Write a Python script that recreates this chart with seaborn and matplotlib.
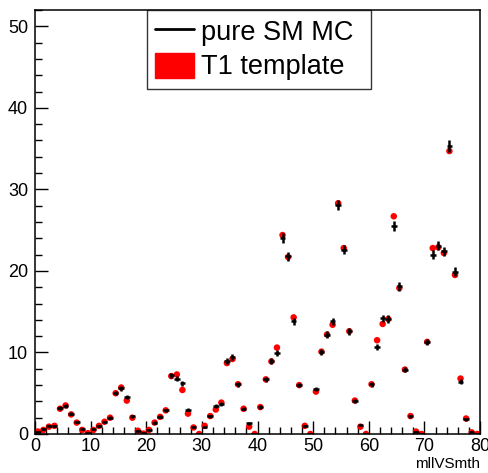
import numpy as np
import pandas as pd
import seaborn as sns
import matplotlib.pyplot as plt
from matplotlib.lines import Line2D
from matplotlib.patches import Patch
from matplotlib.ticker import MultipleLocator

# bin contents (80 bins of width 1 on mllVSmth)
sm_mc = [0.3, 0.6, 1.0, 1.0, 3.2, 3.4, 2.5, 1.5, 0.6, 0.1,
         0.6, 1.0, 1.5, 2.0, 5.0, 5.6, 4.5, 2.2, 0.4, 0.1,
         0.5, 1.4, 2.1, 2.9, 7.2, 6.8, 6.2, 3.0, 0.9, 0.0,
         0.8, 2.2, 3.4, 3.7, 8.9, 9.4, 6.1, 3.1, 1.3, 0.0,
         3.3, 6.7, 8.9, 9.9, 24.0, 21.8, 13.8, 6.0, 1.0, 0.0,
         5.5, 10.1, 12.2, 13.8, 28.1, 22.6, 12.6, 4.1, 1.1, 0.0,
         6.1, 10.7, 14.2, 14.1, 25.5, 18.1, 7.9, 2.2, 0.3, 0.0,
         11.3, 22.0, 23.1, 22.4, 35.3, 19.9, 6.4, 1.8, 0.3, 0.0]
sm_err = [0.07, 0.09, 0.12, 0.12, 0.21, 0.22, 0.19, 0.15, 0.09, 0.04,
          0.09, 0.12, 0.15, 0.17, 0.27, 0.28, 0.25, 0.18, 0.08, 0.04,
          0.08, 0.14, 0.17, 0.20, 0.32, 0.31, 0.30, 0.21, 0.11, 0.0,
          0.11, 0.18, 0.22, 0.23, 0.36, 0.37, 0.30, 0.21, 0.14, 0.0,
          0.22, 0.31, 0.36, 0.38, 0.59, 0.56, 0.45, 0.29, 0.12, 0.0,
          0.28, 0.38, 0.42, 0.45, 0.64, 0.57, 0.43, 0.24, 0.13, 0.0,
          0.30, 0.39, 0.45, 0.45, 0.61, 0.51, 0.34, 0.18, 0.07, 0.0,
          0.40, 0.56, 0.58, 0.57, 0.71, 0.54, 0.30, 0.16, 0.07, 0.0]
t1_template = [0.3, 0.5, 0.9, 1.0, 3.1, 3.5, 2.4, 1.4, 0.5, 0.1,
               0.5, 1.0, 1.5, 2.0, 5.0, 5.7, 4.1, 2.0, 0.4, 0.05,
               0.5, 1.4, 2.1, 2.9, 7.1, 7.3, 5.4, 2.5, 0.8, 0.0,
               1.0, 2.2, 3.0, 3.85, 8.7, 9.2, 6.1, 3.1, 0.9, 0.0,
               3.3, 6.7, 8.9, 10.6, 24.4, 21.7, 14.3, 6.0, 1.0, 0.0,
               5.2, 10.1, 12.2, 13.4, 28.3, 22.8, 12.6, 4.1, 0.9, 0.0,
               6.1, 11.5, 13.5, 14.1, 26.7, 17.9, 7.9, 2.2, 0.3, 0.0,
               11.3, 22.8, 22.9, 22.2, 34.7, 19.5, 6.8, 1.9, 0.2, 0.0]
bin_centers = np.arange(80) + 0.5

df = pd.DataFrame({'mllVSmth': bin_centers, 'sm': sm_mc, 'err': sm_err, 't1': t1_template})

sns.set_style('white')
plt.rcParams['font.family'] = ['Liberation Sans', 'DejaVu Sans']
plt.rcParams['text.color'] = 'black'
plt.rcParams['axes.labelcolor'] = 'black'
plt.rcParams['xtick.color'] = 'black'
plt.rcParams['ytick.color'] = 'black'

fig = plt.figure(figsize=(4.89, 4.73), dpi=100)
ax = fig.add_axes([35/489, 1 - 434/473, 445/489, 424/473])

sns.scatterplot(data=df, x='mllVSmth', y='t1', color='red', s=22, edgecolor='none',
                linewidth=0, ax=ax, zorder=2, legend=False)
ax.errorbar(df['mllVSmth'], df['sm'], xerr=0.5, yerr=df['err'], fmt='none',
            ecolor='black', elinewidth=1.8, capsize=0, zorder=3)

ax.set_xlim(0, 80)
ax.set_ylim(0, 52)
ax.xaxis.set_major_locator(MultipleLocator(10))
ax.xaxis.set_minor_locator(MultipleLocator(2))
ax.yaxis.set_major_locator(MultipleLocator(10))
ax.yaxis.set_minor_locator(MultipleLocator(2))
ax.tick_params(which='both', direction='in', bottom=True, left=True, top=False, right=False,
               labelsize=13, width=1, color='black', labelcolor='black')
ax.tick_params(which='major', length=9.5)
ax.tick_params(which='minor', length=5)
ax.tick_params(axis='y', pad=5)
ax.tick_params(axis='x', pad=3)
for sp in ax.spines.values():
    sp.set_linewidth(1.1)
    sp.set_color('black')

ax.set_ylabel('')
ax.set_xlabel('mllVSmth', fontsize=11, loc='right', labelpad=1, color='black')

handles = [Line2D([0], [0], color='black', lw=2),
           Patch(facecolor='red', edgecolor='red')]
leg = ax.legend(handles, ['pure SM MC', 'T1 template'], loc='upper left',
                bbox_to_anchor=(0.251, 0.811, 0.504, 0.189), mode='expand',
                borderaxespad=0, fontsize=19.5, frameon=True, fancybox=False,
                handlelength=1.45, handleheight=1.05, handletextpad=0.25,
                labelspacing=0.25, borderpad=0.3, labelcolor='black')
leg.get_frame().set_edgecolor('black')
leg.get_frame().set_linewidth(1)

fig.savefig('out.png', dpi=100)
